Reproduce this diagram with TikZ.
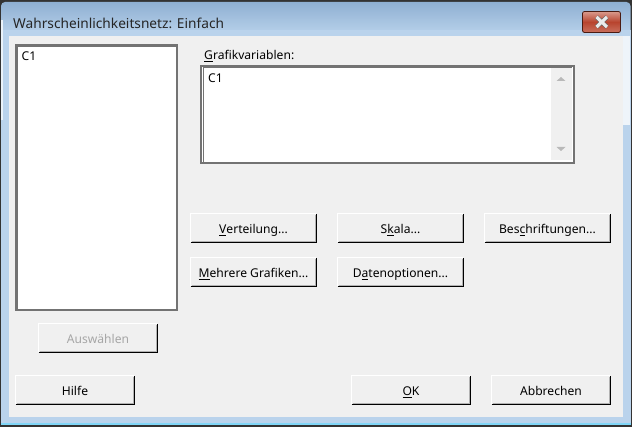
\documentclass[tikz,border=0pt]{standalone}
\usepackage{fontspec}
\setmainfont{Noto Sans}
\usetikzlibrary{shadings}
\definecolor{dlg}{HTML}{F0F0F0}
\definecolor{frameA}{HTML}{8FB0D2}
\definecolor{frameB}{HTML}{BAD3EC}
\definecolor{grayedge}{HTML}{737373}
\definecolor{disabled}{HTML}{A6A6A6}
\definecolor{closeA}{HTML}{D99A8C}
\definecolor{closeB}{HTML}{B8442E}
\definecolor{closeC}{HTML}{C9705E}
\newcommand{\ulk}[1]{\underline{#1}}
\newcommand{\btn}[7][black]{%
  \node[btnbox,text=#1,minimum width=#5-#3-1,minimum height=#6-#4-1] (#2) at ({(#3+#5)/2-.5},{(#4+#6)/2-.5}) {\raisebox{-6pt}[0pt][0pt]{#7}};
  \draw[white,line width=1pt] (#2.south west) -- (#2.north west) -- (#2.north east);
  \draw[black,line width=1pt] (#2.south west) -- (#2.south east) -- (#2.north east);
  \draw[gray!60,line width=.6pt] ([shift={(1,-1)}]#2.south west) -- ([shift={(-1,-1)}]#2.south east) -- ([shift={(-1,1)}]#2.north east);
}
\tikzset{
  btnbox/.style={fill=dlg,inner sep=0pt,font=\fontsize{12.1}{14}\selectfont},
  sunken/.style={draw=grayedge,line width=1.5pt,fill=white,inner sep=0pt},
  lbl/.style={anchor=west,inner sep=0pt,font=\fontsize{12.1}{14}\selectfont},
}
\begin{document}
\begin{tikzpicture}[x=1pt,y=-1pt]
\useasboundingbox (0,0) rectangle (632,427);
% window frame
\fill[black!80] (0,0) rectangle (632,427);
\shade[top color=frameA,bottom color=frameB,rounded corners=4pt] (1,2) rectangle (630.5,36);
\fill[frameB] (1,30) rectangle (630.5,424);
\fill[cyan!50!white] (1,423) rectangle (630.5,425);
\fill[white!70!frameB] (1,20) rectangle (3,120);
\fill[white!75!frameB] (623,36) rectangle (630,125);
\node[inner sep=0pt,anchor=west,font=\fontsize{13.7}{16}\selectfont,text=black!85] (title) at (13,23) {Wahrscheinlichkeitsnetz: Einfach};
% close button
\node[inner sep=0pt,minimum width=38pt,minimum height=21pt,rounded corners=2pt,draw=black!60!closeB,line width=.8pt,
  top color=closeA,bottom color=closeC,middle color=closeB] (close) at (601.5,22) {};
\draw[black!60,line width=4.4pt] (596.5,17) -- (607,27) (607,17) -- (596.5,27);
\draw[white!92!black,line width=3.2pt] (596.5,17) -- (607,27) (607,17) -- (596.5,27);
% client area
\fill[dlg] (9,36) rectangle (623,417);
% list
\node[sunken,minimum width=161pt,minimum height=265pt] (list) at (96.5,177.5) {};
\draw[grayedge,line width=1pt] (17.5,46.5) -- (175.5,46.5) (17.9,46) -- (17.9,309);
\node[lbl] (listc) at (21.5,56) {C1};
% graph vars
\node[lbl] (gv) at (204,56) {\ulk{G}rafikvariablen:};
\node[sunken,minimum width=373pt,minimum height=97pt] (vars) at (387.5,114.5) {};
\draw[grayedge,line width=1pt] (203.6,67) -- (203.6,162) (203,67.5) -- (572,67.5);
\node[lbl] (varsc) at (208,78) {C1};
\fill[dlg] (551,68.2) rectangle (572.2,160);
\fill[gray!55] (556.5,81) -- (561,77) -- (565.5,81) -- cycle;
\fill[gray!55] (556.5,147) -- (565.5,147) -- (561,151) -- cycle;
% buttons
\btn{verteilung}{191}{214}{317}{243}{\ulk{V}erteilung...}
\btn{skala}{338}{214}{464}{243}{S\ulk{k}ala...}
\btn{beschr}{485}{214}{611}{243}{Bes\ulk{c}hriftungen...}
\btn{mehrere}{191}{258}{317}{287}{\ulk{M}ehrere Grafiken...}
\btn{daten}{338}{258}{464}{287}{D\ulk{a}tenoptionen...}
\btn[disabled]{auswahl}{39}{324}{158}{353}{Auswählen}
\btn{hilfe}{16}{376}{135}{405}{Hilfe}
\btn{ok}{352}{376}{471}{405}{\ulk{O}K}
\btn{abbrechen}{492}{376}{611}{405}{Abbrechen}
\end{tikzpicture}
\end{document}
